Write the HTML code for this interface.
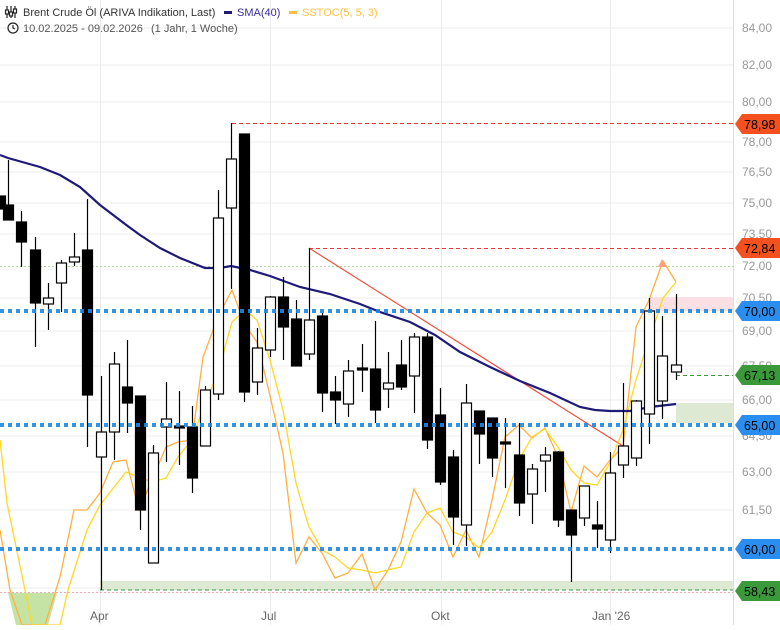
<!DOCTYPE html>
<html><head><meta charset="utf-8"><style>
body{margin:0;background:#fff;width:780px;height:625px;overflow:hidden;font-family:"Liberation Sans",sans-serif}
svg text{font-family:"Liberation Sans",sans-serif}
</style></head><body>
<svg width="780" height="625" viewBox="0 0 780 625" xmlns="http://www.w3.org/2000/svg">
<g stroke="#ececec" stroke-width="1">
<line x1="0" y1="28" x2="733" y2="28"/><line x1="0" y1="65" x2="733" y2="65"/><line x1="0" y1="102" x2="733" y2="102"/><line x1="0" y1="142" x2="733" y2="142"/><line x1="0" y1="172" x2="733" y2="172"/><line x1="0" y1="203" x2="733" y2="203"/><line x1="0" y1="234" x2="733" y2="234"/><line x1="0" y1="298" x2="733" y2="298"/><line x1="0" y1="331" x2="733" y2="331"/><line x1="0" y1="366" x2="733" y2="366"/><line x1="0" y1="400" x2="733" y2="400"/><line x1="0" y1="436" x2="733" y2="436"/><line x1="0" y1="472" x2="733" y2="472"/><line x1="0" y1="510" x2="733" y2="510"/><line x1="0" y1="588" x2="733" y2="588"/>
<line x1="100.5" y1="0" x2="100.5" y2="625"/><line x1="270.5" y1="0" x2="270.5" y2="625"/><line x1="441.5" y1="0" x2="441.5" y2="625"/><line x1="610.5" y1="0" x2="610.5" y2="625"/>
<line x1="733.5" y1="0" x2="733.5" y2="625" stroke="#ddd"/>
</g>
<line x1="0" y1="266.5" x2="733" y2="266.5" stroke="#b5d6a0" stroke-dasharray="2,2"/>
<line x1="0" y1="592.5" x2="733" y2="592.5" stroke="#f0a8a8" stroke-dasharray="2,2"/>
<rect x="100" y="581" width="633" height="9" fill="#dde9d2"/>
<line x1="100" y1="590" x2="733" y2="590" stroke="#3a9a3a" stroke-dasharray="4,3"/>
<rect x="676" y="403" width="57" height="20" fill="#dde9d2"/>
<rect x="649" y="297" width="84" height="14" fill="#fbe0e3"/>
<polygon points="8,593 57,593 48,625 16,625" fill="#c5e3a5"/>
<line x1="232" y1="123.5" x2="733" y2="123.5" stroke="#e53935" stroke-dasharray="4,3"/>
<line x1="309" y1="248.5" x2="733" y2="248.5" stroke="#e53935" stroke-dasharray="4,3"/>
<line x1="676" y1="375.5" x2="733" y2="375.5" stroke="#3a9a3a" stroke-dasharray="4,3"/>
<line x1="309" y1="248" x2="623" y2="446" stroke="#f05040" stroke-width="1.2"/>
<polyline fill="none" stroke="#ffb040" stroke-width="1.3" points="0,530 10,590 22,625 45,625 60,577 74,510 87,510 100,493 113,462 126,460 139,510 152,480 166,447 178,442 192,440 203,357 218,317 232,290 245,325 257,342 268,387 283,453 296,563 309,537 322,553 335,578 348,573 362,554 375,590 388,570 401,542 414,489 427,513 440,525 453,557 466,530 479,557 492,500 505,437 519,425 532,438 545,428 558,457 571,512 584,466 597,477 610,460 623,447 636,327 649,300 663,261 676,282"/>
<polyline fill="none" stroke="#ffd820" stroke-width="1.3" points="0,440 7,503 25,590 32,625 60,625 68,590 87,530 100,505 126,472 139,477 152,482 166,478 178,457 192,440 203,408 218,373 232,322 245,310 257,320 270,360 283,410 296,483 300,497 309,527 322,550 335,557 348,568 362,570 375,573 388,570 401,567 414,532 427,513 440,508 453,532 466,537 479,548 492,532 505,500 519,460 532,437 545,429 558,447 571,470 584,483 597,485 610,463 623,430 636,380 649,340 663,298 676,282"/>
<polygon points="662,259 658,267 666,267" fill="#ffa080"/>
<polyline fill="none" stroke="#1f1a7a" stroke-width="2.2" points="0,155 8,158 40,167 60,175 80,187 100,205 125,224 140,235 160,248 180,258 205,268 220,268 231,266 250,270 270,276 300,287 330,294 360,304 380,312 410,322 435,335 460,352 490,367 520,381 550,393 580,407 595,410 610,411 630,411 650,407 676,404"/>
<g stroke="#000" stroke-width="1.2" id="c"></g>
<g stroke="#1e88e5" stroke-width="4" stroke-dasharray="4,4" opacity="0.9">
<line x1="0" y1="311" x2="733" y2="311"/><line x1="0" y1="425" x2="733" y2="425"/><line x1="0" y1="549" x2="733" y2="549"/>
</g>
<g font-size="12" fill="#999">
<text x="742" y="32">84,00</text><text x="742" y="69">82,00</text><text x="742" y="106">80,00</text><text x="742" y="146">78,00</text><text x="742" y="176">76,50</text><text x="742" y="207">75,00</text><text x="742" y="238">73,50</text><text x="742" y="270">72,00</text><text x="742" y="302">70,50</text><text x="742" y="335">69,00</text><text x="742" y="370">67,50</text><text x="742" y="404">66,00</text><text x="742" y="440">64,50</text><text x="742" y="476">63,00</text><text x="742" y="514">61,50</text>
<text x="90" y="620" fill="#666">Apr</text><text x="261" y="620" fill="#666">Jul</text><text x="431" y="620" fill="#666">Okt</text><text x="592" y="620" fill="#666">Jan '26</text>
</g>
<g font-size="12.5" fill="#000">
<polygon points="735,124 742,114 780,114 780,134 742,134" fill="#f4511e"/><text x="744" y="129">78,98</text>
<polygon points="735,248 742,238 780,238 780,258 742,258" fill="#f4511e"/><text x="744" y="253">72,84</text>
<polygon points="735,311 742,301 780,301 780,321 742,321" fill="#2a8ef0"/><text x="744" y="316">70,00</text>
<polygon points="735,375 742,365 780,365 780,385 742,385" fill="#3a9a3a"/><text x="744" y="380">67,13</text>
<polygon points="735,425 742,415 780,415 780,435 742,435" fill="#2a8ef0"/><text x="744" y="430">65,00</text>
<polygon points="735,549 742,539 780,539 780,559 742,559" fill="#2a8ef0"/><text x="744" y="554">60,00</text>
<polygon points="735,591 742,581 780,581 780,601 742,601" fill="#3a9a3a"/><text x="744" y="596">58,43</text>
</g>
<g font-size="11">
<g stroke="#222" stroke-width="1.2" fill="none"><line x1="7" y1="6" x2="7" y2="18"/><line x1="11" y1="6" x2="11" y2="18"/><line x1="15" y1="6" x2="15" y2="18"/><rect x="5.5" y="10" width="3" height="4" fill="#fff"/><rect x="9.5" y="12" width="3" height="4" fill="#fff"/><rect x="13.5" y="9" width="3" height="4" fill="#fff"/><circle cx="13" cy="28" r="5"/><polyline points="13,25 13,28 15,29"/></g>
<text x="23" y="16" fill="#333">Brent Crude Öl (ARIVA Indikation, Last)</text>
<rect x="224" y="11" width="8" height="3" fill="#1f1a7a"/><text x="237" y="16" fill="#3b2d9a">SMA(40)</text>
<rect x="289" y="11" width="8" height="3" fill="#ffc040"/><text x="302" y="16" fill="#ffc040">SSTOC(5, 5, 3)</text>
<text x="23" y="32" fill="#555">10.02.2025 - 09.02.2026</text>
<text x="151" y="32" fill="#555">(1 Jahr, 1 Woche)</text>
</g>
</svg>
<script>
var d=[[0,0,196,209,196,209],[8,0,205,220,160,220],[21,0,222,242,211,267],[35,0,250,303,237,347],[48,1,298,304,283,330],[61,1,263,283,260,312],[74,1,257,262,233,266],[87,0,250,395,199,447],[101,1,432,457,376,590],[114,1,364,432,352,460],[127,0,387,403,340,433],[140,0,396,510,396,530],[153,1,453,563,445,563],[166,1,419,427,382,462],[179,0,426,428,391,465],[192,0,427,478,406,493],[205,1,390,446,386,446],[218,1,218,394,190,400],[231,1,159,208,123,289],[244,0,134,392,134,402],[257,1,348,382,328,395],[270,1,297,350,296,357],[283,0,297,327,277,360],[296,0,319,366,300,366],[309,1,320,354,248,360],[322,0,316,393,313,412],[335,0,392,400,376,424],[348,1,371,404,360,417],[362,0,368,370,344,392],[375,0,369,410,321,423],[388,1,383,389,352,408],[401,0,365,387,340,390],[414,1,337,376,333,413],[427,0,337,440,333,449],[440,0,415,482,388,485],[453,0,457,517,450,545],[466,1,403,525,384,546],[479,0,411,434,411,464],[492,0,418,458,418,477],[505,0,442,444,418,488],[519,0,455,503,423,516],[532,1,469,494,464,524],[545,1,455,461,447,492],[558,0,452,520,451,527],[571,0,510,535,510,582],[584,1,486,518,486,526],[597,0,525,529,501,548],[610,1,473,540,452,553],[623,1,446,465,383,478],[636,1,401,458,400,466],[649,1,311,414,298,444],[662,1,356,401,316,419],[676,1,365,372,294,380]];
var g=document.getElementById('c'),s='';
d.forEach(function(c){var x=c[0];s+='<line x1="'+(x+.5)+'" y1="'+c[4]+'" x2="'+(x+.5)+'" y2="'+c[5]+'"/>';
s+='<rect x="'+(x-4.5)+'" y="'+c[2]+'" width="10" height="'+Math.max(1,c[3]-c[2])+'" fill="'+(c[1]?'#fff':'#000')+'"/>';});
g.innerHTML=s;
</script>
</body></html>
